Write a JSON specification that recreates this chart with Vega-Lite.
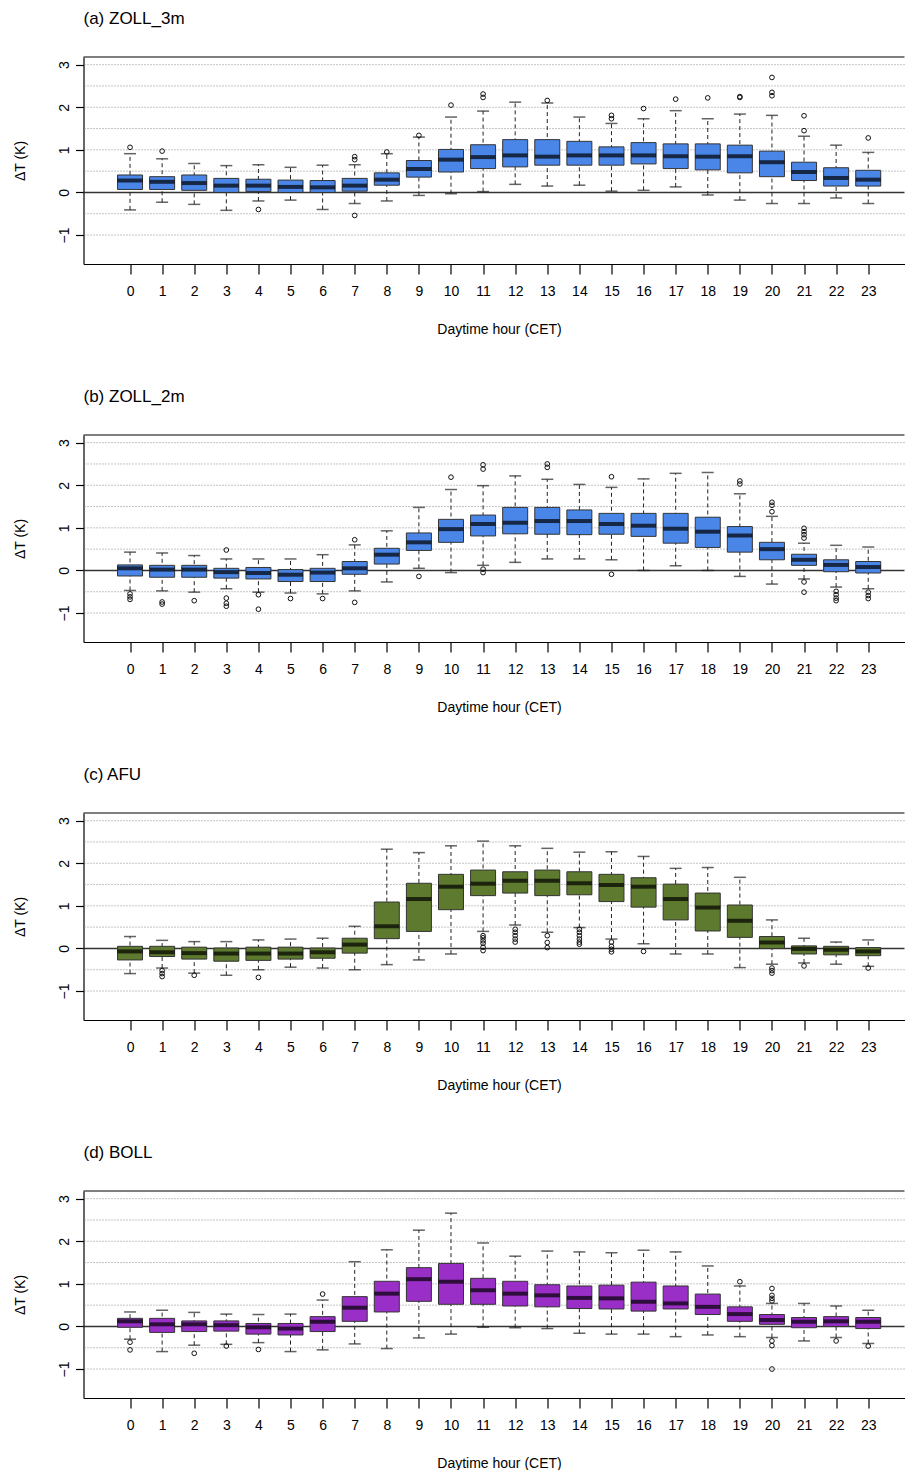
{
"$schema": "https://vega.github.io/schema/vega-lite/v6.json",
"padding": {"left": 13.5, "top": 10, "right": 0, "bottom": 0},
"background": "white",
"spacing": 52,
"config": {
  "view": {"stroke": null},
  "font": "Liberation Sans",
  "scale": {"continuousPadding": 0},
  "axis": {"domainColor": "#000000", "domainWidth": 1.2, "tickColor": "#000000", "tickWidth": 1.2, "labelColor": "#000000", "titleColor": "#000000", "labelFont": "Liberation Sans", "titleFont": "Liberation Sans", "labelFontSize": 14, "titleFontSize": 14, "titleFontWeight": "normal", "grid": false},
  "axisX": {"tickSize": 10, "labelPadding": 10, "titlePadding": 24, "labelAngle": 0, "titleX": 415.5},
  "axisY": {"tickSize": 8, "labelAngle": -90, "labelPadding": 4, "titlePadding": 30, "labelAlign": "center", "labelBaseline": "bottom"},
  "title": {"anchor": "start", "frame": "group", "fontSize": 17, "fontWeight": "normal", "font": "Liberation Sans", "offset": 28, "color": "#000000"}
},
"datasets": {
  "grid": [{"g": -1}, {"g": -0.5}, {"g": 0.5}, {"g": 1}, {"g": 1.5}, {"g": 2}, {"g": 2.5}, {"g": 3}],
  "boxes": [
    {"panel":"a","hour":0,"lo":-0.41,"q1":0.07,"median":0.28,"q3":0.41,"hi":0.91},
    {"panel":"a","hour":1,"lo":-0.23,"q1":0.07,"median":0.25,"q3":0.37,"hi":0.79},
    {"panel":"a","hour":2,"lo":-0.28,"q1":0.05,"median":0.22,"q3":0.41,"hi":0.68},
    {"panel":"a","hour":3,"lo":-0.42,"q1":0.0,"median":0.16,"q3":0.33,"hi":0.63},
    {"panel":"a","hour":4,"lo":-0.2,"q1":0.02,"median":0.16,"q3":0.31,"hi":0.65},
    {"panel":"a","hour":5,"lo":-0.18,"q1":0.0,"median":0.13,"q3":0.29,"hi":0.59},
    {"panel":"a","hour":6,"lo":-0.4,"q1":0.0,"median":0.12,"q3":0.28,"hi":0.64},
    {"panel":"a","hour":7,"lo":-0.26,"q1":0.03,"median":0.16,"q3":0.33,"hi":0.65},
    {"panel":"a","hour":8,"lo":-0.2,"q1":0.17,"median":0.3,"q3":0.46,"hi":0.91},
    {"panel":"a","hour":9,"lo":-0.07,"q1":0.36,"median":0.55,"q3":0.75,"hi":1.3},
    {"panel":"a","hour":10,"lo":-0.03,"q1":0.48,"median":0.77,"q3":1.01,"hi":1.77},
    {"panel":"a","hour":11,"lo":0.02,"q1":0.56,"median":0.83,"q3":1.12,"hi":1.91},
    {"panel":"a","hour":12,"lo":0.19,"q1":0.6,"median":0.87,"q3":1.24,"hi":2.12},
    {"panel":"a","hour":13,"lo":0.15,"q1":0.64,"median":0.84,"q3":1.24,"hi":2.1},
    {"panel":"a","hour":14,"lo":0.17,"q1":0.64,"median":0.87,"q3":1.2,"hi":1.77},
    {"panel":"a","hour":15,"lo":0.03,"q1":0.64,"median":0.87,"q3":1.07,"hi":1.62},
    {"panel":"a","hour":16,"lo":0.05,"q1":0.67,"median":0.87,"q3":1.17,"hi":1.73},
    {"panel":"a","hour":17,"lo":0.13,"q1":0.56,"median":0.85,"q3":1.14,"hi":1.92},
    {"panel":"a","hour":18,"lo":-0.06,"q1":0.53,"median":0.84,"q3":1.14,"hi":1.73},
    {"panel":"a","hour":19,"lo":-0.18,"q1":0.46,"median":0.85,"q3":1.11,"hi":1.84},
    {"panel":"a","hour":20,"lo":-0.26,"q1":0.37,"median":0.71,"q3":0.97,"hi":1.81},
    {"panel":"a","hour":21,"lo":-0.26,"q1":0.28,"median":0.48,"q3":0.71,"hi":1.32},
    {"panel":"a","hour":22,"lo":-0.13,"q1":0.15,"median":0.34,"q3":0.58,"hi":1.11},
    {"panel":"a","hour":23,"lo":-0.26,"q1":0.15,"median":0.3,"q3":0.52,"hi":0.94},
    {"panel":"b","hour":0,"lo":-0.47,"q1":-0.13,"median":0.05,"q3":0.13,"hi":0.43},
    {"panel":"b","hour":1,"lo":-0.48,"q1":-0.16,"median":0.02,"q3":0.12,"hi":0.41},
    {"panel":"b","hour":2,"lo":-0.51,"q1":-0.16,"median":0.02,"q3":0.12,"hi":0.35},
    {"panel":"b","hour":3,"lo":-0.43,"q1":-0.18,"median":-0.04,"q3":0.05,"hi":0.27},
    {"panel":"b","hour":4,"lo":-0.51,"q1":-0.2,"median":-0.06,"q3":0.07,"hi":0.27},
    {"panel":"b","hour":5,"lo":-0.53,"q1":-0.26,"median":-0.1,"q3":0.02,"hi":0.27},
    {"panel":"b","hour":6,"lo":-0.55,"q1":-0.26,"median":-0.05,"q3":0.05,"hi":0.37},
    {"panel":"b","hour":7,"lo":-0.48,"q1":-0.09,"median":0.05,"q3":0.21,"hi":0.6},
    {"panel":"b","hour":8,"lo":-0.27,"q1":0.15,"median":0.37,"q3":0.52,"hi":0.93},
    {"panel":"b","hour":9,"lo":0.05,"q1":0.47,"median":0.66,"q3":0.88,"hi":1.48},
    {"panel":"b","hour":10,"lo":-0.05,"q1":0.66,"median":0.97,"q3":1.2,"hi":1.9},
    {"panel":"b","hour":11,"lo":0.12,"q1":0.81,"median":1.09,"q3":1.3,"hi":1.99},
    {"panel":"b","hour":12,"lo":0.19,"q1":0.86,"median":1.12,"q3":1.48,"hi":2.22},
    {"panel":"b","hour":13,"lo":0.27,"q1":0.85,"median":1.16,"q3":1.48,"hi":2.14},
    {"panel":"b","hour":14,"lo":0.27,"q1":0.84,"median":1.16,"q3":1.42,"hi":2.02},
    {"panel":"b","hour":15,"lo":0.25,"q1":0.85,"median":1.09,"q3":1.34,"hi":1.95},
    {"panel":"b","hour":16,"lo":0.0,"q1":0.8,"median":1.05,"q3":1.34,"hi":2.15},
    {"panel":"b","hour":17,"lo":0.11,"q1":0.64,"median":0.98,"q3":1.34,"hi":2.28},
    {"panel":"b","hour":18,"lo":0.0,"q1":0.54,"median":0.91,"q3":1.25,"hi":2.3},
    {"panel":"b","hour":19,"lo":-0.14,"q1":0.43,"median":0.82,"q3":1.03,"hi":1.8},
    {"panel":"b","hour":20,"lo":-0.32,"q1":0.25,"median":0.5,"q3":0.66,"hi":1.27},
    {"panel":"b","hour":21,"lo":-0.2,"q1":0.12,"median":0.25,"q3":0.38,"hi":0.64},
    {"panel":"b","hour":22,"lo":-0.39,"q1":-0.03,"median":0.13,"q3":0.25,"hi":0.59},
    {"panel":"b","hour":23,"lo":-0.43,"q1":-0.06,"median":0.08,"q3":0.21,"hi":0.55},
    {"panel":"c","hour":0,"lo":-0.59,"q1":-0.27,"median":-0.07,"q3":0.05,"hi":0.28},
    {"panel":"c","hour":1,"lo":-0.46,"q1":-0.19,"median":-0.09,"q3":0.05,"hi":0.19},
    {"panel":"c","hour":2,"lo":-0.58,"q1":-0.25,"median":-0.11,"q3":0.03,"hi":0.16},
    {"panel":"c","hour":3,"lo":-0.63,"q1":-0.3,"median":-0.12,"q3":0.01,"hi":0.16},
    {"panel":"c","hour":4,"lo":-0.5,"q1":-0.28,"median":-0.12,"q3":0.03,"hi":0.2},
    {"panel":"c","hour":5,"lo":-0.44,"q1":-0.25,"median":-0.12,"q3":0.03,"hi":0.22},
    {"panel":"c","hour":6,"lo":-0.46,"q1":-0.23,"median":-0.09,"q3":0.01,"hi":0.24},
    {"panel":"c","hour":7,"lo":-0.5,"q1":-0.11,"median":0.09,"q3":0.24,"hi":0.52},
    {"panel":"c","hour":8,"lo":-0.38,"q1":0.23,"median":0.52,"q3":1.09,"hi":2.33},
    {"panel":"c","hour":9,"lo":-0.27,"q1":0.4,"median":1.16,"q3":1.53,"hi":2.25},
    {"panel":"c","hour":10,"lo":-0.13,"q1":0.91,"median":1.45,"q3":1.74,"hi":2.41},
    {"panel":"c","hour":11,"lo":0.4,"q1":1.24,"median":1.52,"q3":1.84,"hi":2.52},
    {"panel":"c","hour":12,"lo":0.55,"q1":1.3,"median":1.59,"q3":1.8,"hi":2.41},
    {"panel":"c","hour":13,"lo":0.38,"q1":1.24,"median":1.59,"q3":1.84,"hi":2.35},
    {"panel":"c","hour":14,"lo":0.49,"q1":1.26,"median":1.53,"q3":1.8,"hi":2.26},
    {"panel":"c","hour":15,"lo":0.22,"q1":1.1,"median":1.49,"q3":1.74,"hi":2.27},
    {"panel":"c","hour":16,"lo":0.11,"q1":0.97,"median":1.45,"q3":1.66,"hi":2.16},
    {"panel":"c","hour":17,"lo":-0.13,"q1":0.67,"median":1.16,"q3":1.51,"hi":1.88},
    {"panel":"c","hour":18,"lo":-0.13,"q1":0.41,"median":0.96,"q3":1.3,"hi":1.9},
    {"panel":"c","hour":19,"lo":-0.45,"q1":0.26,"median":0.65,"q3":1.02,"hi":1.67},
    {"panel":"c","hour":20,"lo":-0.37,"q1":0.0,"median":0.14,"q3":0.28,"hi":0.67},
    {"panel":"c","hour":21,"lo":-0.34,"q1":-0.13,"median":-0.01,"q3":0.06,"hi":0.24},
    {"panel":"c","hour":22,"lo":-0.37,"q1":-0.15,"median":-0.03,"q3":0.05,"hi":0.15},
    {"panel":"c","hour":23,"lo":-0.42,"q1":-0.17,"median":-0.07,"q3":0.02,"hi":0.2},
    {"panel":"d","hour":0,"lo":-0.3,"q1":-0.02,"median":0.12,"q3":0.19,"hi":0.34},
    {"panel":"d","hour":1,"lo":-0.59,"q1":-0.14,"median":0.05,"q3":0.19,"hi":0.38},
    {"panel":"d","hour":2,"lo":-0.44,"q1":-0.12,"median":0.05,"q3":0.13,"hi":0.33},
    {"panel":"d","hour":3,"lo":-0.42,"q1":-0.11,"median":0.03,"q3":0.13,"hi":0.29},
    {"panel":"d","hour":4,"lo":-0.38,"q1":-0.18,"median":-0.02,"q3":0.07,"hi":0.28},
    {"panel":"d","hour":5,"lo":-0.59,"q1":-0.2,"median":-0.05,"q3":0.07,"hi":0.29},
    {"panel":"d","hour":6,"lo":-0.55,"q1":-0.12,"median":0.11,"q3":0.23,"hi":0.62},
    {"panel":"d","hour":7,"lo":-0.41,"q1":0.12,"median":0.44,"q3":0.7,"hi":1.52},
    {"panel":"d","hour":8,"lo":-0.52,"q1":0.34,"median":0.77,"q3":1.06,"hi":1.8},
    {"panel":"d","hour":9,"lo":-0.27,"q1":0.59,"median":1.11,"q3":1.38,"hi":2.26},
    {"panel":"d","hour":10,"lo":-0.18,"q1":0.52,"median":1.05,"q3":1.48,"hi":2.66},
    {"panel":"d","hour":11,"lo":-0.02,"q1":0.52,"median":0.85,"q3":1.13,"hi":1.96},
    {"panel":"d","hour":12,"lo":-0.03,"q1":0.48,"median":0.77,"q3":1.06,"hi":1.65},
    {"panel":"d","hour":13,"lo":-0.05,"q1":0.46,"median":0.73,"q3":0.98,"hi":1.77},
    {"panel":"d","hour":14,"lo":-0.16,"q1":0.42,"median":0.67,"q3":0.95,"hi":1.75},
    {"panel":"d","hour":15,"lo":-0.18,"q1":0.41,"median":0.66,"q3":0.97,"hi":1.73},
    {"panel":"d","hour":16,"lo":-0.18,"q1":0.36,"median":0.58,"q3":1.04,"hi":1.79},
    {"panel":"d","hour":17,"lo":-0.24,"q1":0.41,"median":0.54,"q3":0.95,"hi":1.75},
    {"panel":"d","hour":18,"lo":-0.2,"q1":0.28,"median":0.46,"q3":0.76,"hi":1.42},
    {"panel":"d","hour":19,"lo":-0.24,"q1":0.12,"median":0.29,"q3":0.46,"hi":0.95},
    {"panel":"d","hour":20,"lo":-0.26,"q1":0.05,"median":0.15,"q3":0.28,"hi":0.54},
    {"panel":"d","hour":21,"lo":-0.34,"q1":-0.03,"median":0.11,"q3":0.21,"hi":0.54},
    {"panel":"d","hour":22,"lo":-0.26,"q1":0.0,"median":0.12,"q3":0.23,"hi":0.48},
    {"panel":"d","hour":23,"lo":-0.4,"q1":-0.05,"median":0.11,"q3":0.21,"hi":0.38}
  ],
  "outliers": [
    {"panel":"a","hour":0,"value":1.06},{"panel":"a","hour":1,"value":0.97},{"panel":"a","hour":4,"value":-0.4},
    {"panel":"a","hour":7,"value":0.84},{"panel":"a","hour":7,"value":0.77},{"panel":"a","hour":7,"value":-0.54},
    {"panel":"a","hour":8,"value":0.95},{"panel":"a","hour":9,"value":1.34},{"panel":"a","hour":10,"value":2.05},
    {"panel":"a","hour":11,"value":2.31},{"panel":"a","hour":11,"value":2.23},{"panel":"a","hour":13,"value":2.16},
    {"panel":"a","hour":15,"value":1.81},{"panel":"a","hour":15,"value":1.73},{"panel":"a","hour":16,"value":1.97},
    {"panel":"a","hour":17,"value":2.19},{"panel":"a","hour":18,"value":2.22},{"panel":"a","hour":19,"value":2.25},
    {"panel":"a","hour":19,"value":2.23},{"panel":"a","hour":20,"value":2.7},{"panel":"a","hour":20,"value":2.35},
    {"panel":"a","hour":20,"value":2.27},{"panel":"a","hour":21,"value":1.8},{"panel":"a","hour":21,"value":1.45},
    {"panel":"a","hour":23,"value":1.28},
    {"panel":"b","hour":0,"value":-0.55},{"panel":"b","hour":0,"value":-0.62},{"panel":"b","hour":0,"value":-0.68},
    {"panel":"b","hour":1,"value":-0.74},{"panel":"b","hour":1,"value":-0.79},{"panel":"b","hour":2,"value":-0.71},
    {"panel":"b","hour":3,"value":0.48},{"panel":"b","hour":3,"value":-0.65},{"panel":"b","hour":3,"value":-0.77},
    {"panel":"b","hour":3,"value":-0.84},{"panel":"b","hour":4,"value":-0.57},{"panel":"b","hour":4,"value":-0.91},
    {"panel":"b","hour":5,"value":-0.66},{"panel":"b","hour":6,"value":-0.66},{"panel":"b","hour":7,"value":0.72},
    {"panel":"b","hour":7,"value":-0.75},{"panel":"b","hour":9,"value":-0.14},{"panel":"b","hour":10,"value":2.19},
    {"panel":"b","hour":11,"value":2.48},{"panel":"b","hour":11,"value":2.38},{"panel":"b","hour":11,"value":0.03},
    {"panel":"b","hour":11,"value":-0.05},{"panel":"b","hour":13,"value":2.5},{"panel":"b","hour":13,"value":2.42},
    {"panel":"b","hour":15,"value":2.2},{"panel":"b","hour":15,"value":-0.09},{"panel":"b","hour":19,"value":2.1},
    {"panel":"b","hour":19,"value":2.03},{"panel":"b","hour":20,"value":1.6},{"panel":"b","hour":20,"value":1.53},
    {"panel":"b","hour":20,"value":1.38},{"panel":"b","hour":21,"value":0.99},{"panel":"b","hour":21,"value":0.91},
    {"panel":"b","hour":21,"value":0.84},{"panel":"b","hour":21,"value":0.76},{"panel":"b","hour":21,"value":-0.27},
    {"panel":"b","hour":21,"value":-0.51},{"panel":"b","hour":22,"value":-0.49},{"panel":"b","hour":22,"value":-0.57},
    {"panel":"b","hour":22,"value":-0.65},{"panel":"b","hour":22,"value":-0.71},{"panel":"b","hour":23,"value":-0.51},
    {"panel":"b","hour":23,"value":-0.59},{"panel":"b","hour":23,"value":-0.66},
    {"panel":"c","hour":1,"value":-0.52},{"panel":"c","hour":1,"value":-0.59},{"panel":"c","hour":1,"value":-0.66},
    {"panel":"c","hour":2,"value":-0.63},{"panel":"c","hour":4,"value":-0.68},
    {"panel":"c","hour":11,"value":0.3},{"panel":"c","hour":11,"value":0.25},{"panel":"c","hour":11,"value":0.18},
    {"panel":"c","hour":11,"value":0.12},{"panel":"c","hour":11,"value":0.03},{"panel":"c","hour":11,"value":-0.05},
    {"panel":"c","hour":12,"value":0.45},{"panel":"c","hour":12,"value":0.38},{"panel":"c","hour":12,"value":0.3},
    {"panel":"c","hour":12,"value":0.22},{"panel":"c","hour":12,"value":0.15},
    {"panel":"c","hour":13,"value":0.3},{"panel":"c","hour":13,"value":0.14},{"panel":"c","hour":13,"value":0.02},
    {"panel":"c","hour":14,"value":0.45},{"panel":"c","hour":14,"value":0.38},{"panel":"c","hour":14,"value":0.3},
    {"panel":"c","hour":14,"value":0.22},{"panel":"c","hour":14,"value":0.15},{"panel":"c","hour":14,"value":0.1},
    {"panel":"c","hour":15,"value":0.15},{"panel":"c","hour":15,"value":0.05},{"panel":"c","hour":15,"value":-0.02},
    {"panel":"c","hour":15,"value":-0.08},{"panel":"c","hour":16,"value":-0.07},
    {"panel":"c","hour":20,"value":-0.46},{"panel":"c","hour":20,"value":-0.52},{"panel":"c","hour":20,"value":-0.58},
    {"panel":"c","hour":21,"value":-0.41},{"panel":"c","hour":23,"value":-0.46},
    {"panel":"d","hour":0,"value":-0.37},{"panel":"d","hour":0,"value":-0.55},{"panel":"d","hour":2,"value":-0.63},
    {"panel":"d","hour":3,"value":-0.46},{"panel":"d","hour":4,"value":-0.54},{"panel":"d","hour":6,"value":0.76},
    {"panel":"d","hour":19,"value":1.05},{"panel":"d","hour":20,"value":0.89},{"panel":"d","hour":20,"value":0.73},
    {"panel":"d","hour":20,"value":0.66},{"panel":"d","hour":20,"value":0.6},{"panel":"d","hour":20,"value":-0.34},
    {"panel":"d","hour":20,"value":-0.45},{"panel":"d","hour":20,"value":-1.0},{"panel":"d","hour":22,"value":-0.34},
    {"panel":"d","hour":23,"value":-0.46}
  ]
},
"vconcat": [
 {
  "title": {"text": "(a) ZOLL_3m"},
  "width": 821, "height": 207,
  "layer": [
   {"data": {"name": "grid"}, "mark": {"type": "rule", "color": "#8a8a8a", "strokeWidth": 1, "strokeDash": [1, 2]}, "encoding": {"y": {"field": "g", "type": "quantitative", "scale": {"domain": [-1.68, 3.18], "nice": false, "zero": false}, "axis": {"values": [-1, 0, 1, 2, 3], "title": "ΔT (K)"}}}},
   {"data": {"values": [{"z": 0}]}, "mark": {"type": "rule", "color": "#333333", "strokeWidth": 1.5}, "encoding": {"y": {"field": "z", "type": "quantitative", "scale": {"domain": [-1.68, 3.18], "nice": false, "zero": false}, "axis": {"values": [-1, 0, 1, 2, 3], "title": "ΔT (K)"}}}},
   {"data": {"values": [{}]}, "mark": {"type": "rule", "color": "#000000", "strokeWidth": 1.2}, "encoding": {"y": {"datum": 3.18, "type": "quantitative", "scale": {"domain": [-1.68, 3.18], "nice": false, "zero": false}, "axis": {"values": [-1, 0, 1, 2, 3], "title": "ΔT (K)"}}}},
   {"data": {"name": "boxes"}, "transform": [{"filter": "datum.panel === 'a'"}], "mark": {"type": "rule", "color": "#222222", "strokeWidth": 1, "strokeDash": [4, 3]}, "encoding": {"x": {"field": "hour", "type": "quantitative", "scale": {"domain": [-1.45, 24.13], "nice": false, "zero": false, "padding": 0}, "axis": {"values": [0,1,2,3,4,5,6,7,8,9,10,11,12,13,14,15,16,17,18,19,20,21,22,23], "title": "Daytime hour (CET)"}}, "y": {"field": "lo", "type": "quantitative", "scale": {"domain": [-1.68, 3.18], "nice": false, "zero": false}, "axis": {"values": [-1, 0, 1, 2, 3], "title": "ΔT (K)"}}, "y2": {"field": "hi"}}},
   {"data": {"name": "boxes"}, "transform": [{"filter": "datum.panel === 'a'"}], "mark": {"type": "tick", "orient": "horizontal", "size": 12, "thickness": 1.5, "color": "#222222"}, "encoding": {"x": {"field": "hour", "type": "quantitative", "scale": {"domain": [-1.45, 24.13], "nice": false, "zero": false, "padding": 0}, "axis": {"values": [0,1,2,3,4,5,6,7,8,9,10,11,12,13,14,15,16,17,18,19,20,21,22,23], "title": "Daytime hour (CET)"}}, "y": {"field": "lo", "type": "quantitative", "scale": {"domain": [-1.68, 3.18], "nice": false, "zero": false}, "axis": {"values": [-1, 0, 1, 2, 3], "title": "ΔT (K)"}}}},
   {"data": {"name": "boxes"}, "transform": [{"filter": "datum.panel === 'a'"}], "mark": {"type": "tick", "orient": "horizontal", "size": 12, "thickness": 1.5, "color": "#222222"}, "encoding": {"x": {"field": "hour", "type": "quantitative", "scale": {"domain": [-1.45, 24.13], "nice": false, "zero": false, "padding": 0}, "axis": {"values": [0,1,2,3,4,5,6,7,8,9,10,11,12,13,14,15,16,17,18,19,20,21,22,23], "title": "Daytime hour (CET)"}}, "y": {"field": "hi", "type": "quantitative", "scale": {"domain": [-1.68, 3.18], "nice": false, "zero": false}, "axis": {"values": [-1, 0, 1, 2, 3], "title": "ΔT (K)"}}}},
   {"data": {"name": "boxes"}, "transform": [{"filter": "datum.panel === 'a'"}], "mark": {"type": "bar", "orient": "vertical", "size": 25, "color": "#4a86e8", "stroke": "#333333", "strokeWidth": 1}, "encoding": {"x": {"field": "hour", "type": "quantitative", "scale": {"domain": [-1.45, 24.13], "nice": false, "zero": false, "padding": 0}, "axis": {"values": [0,1,2,3,4,5,6,7,8,9,10,11,12,13,14,15,16,17,18,19,20,21,22,23], "title": "Daytime hour (CET)"}}, "y": {"field": "q1", "type": "quantitative", "scale": {"domain": [-1.68, 3.18], "nice": false, "zero": false}, "axis": {"values": [-1, 0, 1, 2, 3], "title": "ΔT (K)"}}, "y2": {"field": "q3"}}},
   {"data": {"name": "boxes"}, "transform": [{"filter": "datum.panel === 'a'"}], "mark": {"type": "tick", "orient": "horizontal", "size": 25, "thickness": 4, "color": "#000000"}, "encoding": {"x": {"field": "hour", "type": "quantitative", "scale": {"domain": [-1.45, 24.13], "nice": false, "zero": false, "padding": 0}, "axis": {"values": [0,1,2,3,4,5,6,7,8,9,10,11,12,13,14,15,16,17,18,19,20,21,22,23], "title": "Daytime hour (CET)"}}, "y": {"field": "median", "type": "quantitative", "scale": {"domain": [-1.68, 3.18], "nice": false, "zero": false}, "axis": {"values": [-1, 0, 1, 2, 3], "title": "ΔT (K)"}}}},
   {"data": {"name": "outliers"}, "transform": [{"filter": "datum.panel === 'a'"}], "mark": {"type": "point", "shape": "circle", "filled": false, "size": 22, "color": "#111111", "strokeWidth": 1, "opacity": 1}, "encoding": {"x": {"field": "hour", "type": "quantitative", "scale": {"domain": [-1.45, 24.13], "nice": false, "zero": false, "padding": 0}, "axis": {"values": [0,1,2,3,4,5,6,7,8,9,10,11,12,13,14,15,16,17,18,19,20,21,22,23], "title": "Daytime hour (CET)"}}, "y": {"field": "value", "type": "quantitative", "scale": {"domain": [-1.68, 3.18], "nice": false, "zero": false}, "axis": {"values": [-1, 0, 1, 2, 3], "title": "ΔT (K)"}}}}
  ]
 },
 {
  "title": {"text": "(b) ZOLL_2m"},
  "width": 821, "height": 207,
  "layer": [
   {"data": {"name": "grid"}, "mark": {"type": "rule", "color": "#8a8a8a", "strokeWidth": 1, "strokeDash": [1, 2]}, "encoding": {"y": {"field": "g", "type": "quantitative", "scale": {"domain": [-1.68, 3.18], "nice": false, "zero": false}, "axis": {"values": [-1, 0, 1, 2, 3], "title": "ΔT (K)"}}}},
   {"data": {"values": [{"z": 0}]}, "mark": {"type": "rule", "color": "#333333", "strokeWidth": 1.5}, "encoding": {"y": {"field": "z", "type": "quantitative", "scale": {"domain": [-1.68, 3.18], "nice": false, "zero": false}, "axis": {"values": [-1, 0, 1, 2, 3], "title": "ΔT (K)"}}}},
   {"data": {"values": [{}]}, "mark": {"type": "rule", "color": "#000000", "strokeWidth": 1.2}, "encoding": {"y": {"datum": 3.18, "type": "quantitative", "scale": {"domain": [-1.68, 3.18], "nice": false, "zero": false}, "axis": {"values": [-1, 0, 1, 2, 3], "title": "ΔT (K)"}}}},
   {"data": {"name": "boxes"}, "transform": [{"filter": "datum.panel === 'b'"}], "mark": {"type": "rule", "color": "#222222", "strokeWidth": 1, "strokeDash": [4, 3]}, "encoding": {"x": {"field": "hour", "type": "quantitative", "scale": {"domain": [-1.45, 24.13], "nice": false, "zero": false, "padding": 0}, "axis": {"values": [0,1,2,3,4,5,6,7,8,9,10,11,12,13,14,15,16,17,18,19,20,21,22,23], "title": "Daytime hour (CET)"}}, "y": {"field": "lo", "type": "quantitative", "scale": {"domain": [-1.68, 3.18], "nice": false, "zero": false}, "axis": {"values": [-1, 0, 1, 2, 3], "title": "ΔT (K)"}}, "y2": {"field": "hi"}}},
   {"data": {"name": "boxes"}, "transform": [{"filter": "datum.panel === 'b'"}], "mark": {"type": "tick", "orient": "horizontal", "size": 12, "thickness": 1.5, "color": "#222222"}, "encoding": {"x": {"field": "hour", "type": "quantitative", "scale": {"domain": [-1.45, 24.13], "nice": false, "zero": false, "padding": 0}, "axis": {"values": [0,1,2,3,4,5,6,7,8,9,10,11,12,13,14,15,16,17,18,19,20,21,22,23], "title": "Daytime hour (CET)"}}, "y": {"field": "lo", "type": "quantitative", "scale": {"domain": [-1.68, 3.18], "nice": false, "zero": false}, "axis": {"values": [-1, 0, 1, 2, 3], "title": "ΔT (K)"}}}},
   {"data": {"name": "boxes"}, "transform": [{"filter": "datum.panel === 'b'"}], "mark": {"type": "tick", "orient": "horizontal", "size": 12, "thickness": 1.5, "color": "#222222"}, "encoding": {"x": {"field": "hour", "type": "quantitative", "scale": {"domain": [-1.45, 24.13], "nice": false, "zero": false, "padding": 0}, "axis": {"values": [0,1,2,3,4,5,6,7,8,9,10,11,12,13,14,15,16,17,18,19,20,21,22,23], "title": "Daytime hour (CET)"}}, "y": {"field": "hi", "type": "quantitative", "scale": {"domain": [-1.68, 3.18], "nice": false, "zero": false}, "axis": {"values": [-1, 0, 1, 2, 3], "title": "ΔT (K)"}}}},
   {"data": {"name": "boxes"}, "transform": [{"filter": "datum.panel === 'b'"}], "mark": {"type": "bar", "orient": "vertical", "size": 25, "color": "#4a86e8", "stroke": "#333333", "strokeWidth": 1}, "encoding": {"x": {"field": "hour", "type": "quantitative", "scale": {"domain": [-1.45, 24.13], "nice": false, "zero": false, "padding": 0}, "axis": {"values": [0,1,2,3,4,5,6,7,8,9,10,11,12,13,14,15,16,17,18,19,20,21,22,23], "title": "Daytime hour (CET)"}}, "y": {"field": "q1", "type": "quantitative", "scale": {"domain": [-1.68, 3.18], "nice": false, "zero": false}, "axis": {"values": [-1, 0, 1, 2, 3], "title": "ΔT (K)"}}, "y2": {"field": "q3"}}},
   {"data": {"name": "boxes"}, "transform": [{"filter": "datum.panel === 'b'"}], "mark": {"type": "tick", "orient": "horizontal", "size": 25, "thickness": 4, "color": "#000000"}, "encoding": {"x": {"field": "hour", "type": "quantitative", "scale": {"domain": [-1.45, 24.13], "nice": false, "zero": false, "padding": 0}, "axis": {"values": [0,1,2,3,4,5,6,7,8,9,10,11,12,13,14,15,16,17,18,19,20,21,22,23], "title": "Daytime hour (CET)"}}, "y": {"field": "median", "type": "quantitative", "scale": {"domain": [-1.68, 3.18], "nice": false, "zero": false}, "axis": {"values": [-1, 0, 1, 2, 3], "title": "ΔT (K)"}}}},
   {"data": {"name": "outliers"}, "transform": [{"filter": "datum.panel === 'b'"}], "mark": {"type": "point", "shape": "circle", "filled": false, "size": 22, "color": "#111111", "strokeWidth": 1, "opacity": 1}, "encoding": {"x": {"field": "hour", "type": "quantitative", "scale": {"domain": [-1.45, 24.13], "nice": false, "zero": false, "padding": 0}, "axis": {"values": [0,1,2,3,4,5,6,7,8,9,10,11,12,13,14,15,16,17,18,19,20,21,22,23], "title": "Daytime hour (CET)"}}, "y": {"field": "value", "type": "quantitative", "scale": {"domain": [-1.68, 3.18], "nice": false, "zero": false}, "axis": {"values": [-1, 0, 1, 2, 3], "title": "ΔT (K)"}}}}
  ]
 },
 {
  "title": {"text": "(c) AFU"},
  "width": 821, "height": 207,
  "layer": [
   {"data": {"name": "grid"}, "mark": {"type": "rule", "color": "#8a8a8a", "strokeWidth": 1, "strokeDash": [1, 2]}, "encoding": {"y": {"field": "g", "type": "quantitative", "scale": {"domain": [-1.68, 3.18], "nice": false, "zero": false}, "axis": {"values": [-1, 0, 1, 2, 3], "title": "ΔT (K)"}}}},
   {"data": {"values": [{"z": 0}]}, "mark": {"type": "rule", "color": "#333333", "strokeWidth": 1.5}, "encoding": {"y": {"field": "z", "type": "quantitative", "scale": {"domain": [-1.68, 3.18], "nice": false, "zero": false}, "axis": {"values": [-1, 0, 1, 2, 3], "title": "ΔT (K)"}}}},
   {"data": {"values": [{}]}, "mark": {"type": "rule", "color": "#000000", "strokeWidth": 1.2}, "encoding": {"y": {"datum": 3.18, "type": "quantitative", "scale": {"domain": [-1.68, 3.18], "nice": false, "zero": false}, "axis": {"values": [-1, 0, 1, 2, 3], "title": "ΔT (K)"}}}},
   {"data": {"name": "boxes"}, "transform": [{"filter": "datum.panel === 'c'"}], "mark": {"type": "rule", "color": "#222222", "strokeWidth": 1, "strokeDash": [4, 3]}, "encoding": {"x": {"field": "hour", "type": "quantitative", "scale": {"domain": [-1.45, 24.13], "nice": false, "zero": false, "padding": 0}, "axis": {"values": [0,1,2,3,4,5,6,7,8,9,10,11,12,13,14,15,16,17,18,19,20,21,22,23], "title": "Daytime hour (CET)"}}, "y": {"field": "lo", "type": "quantitative", "scale": {"domain": [-1.68, 3.18], "nice": false, "zero": false}, "axis": {"values": [-1, 0, 1, 2, 3], "title": "ΔT (K)"}}, "y2": {"field": "hi"}}},
   {"data": {"name": "boxes"}, "transform": [{"filter": "datum.panel === 'c'"}], "mark": {"type": "tick", "orient": "horizontal", "size": 12, "thickness": 1.5, "color": "#222222"}, "encoding": {"x": {"field": "hour", "type": "quantitative", "scale": {"domain": [-1.45, 24.13], "nice": false, "zero": false, "padding": 0}, "axis": {"values": [0,1,2,3,4,5,6,7,8,9,10,11,12,13,14,15,16,17,18,19,20,21,22,23], "title": "Daytime hour (CET)"}}, "y": {"field": "lo", "type": "quantitative", "scale": {"domain": [-1.68, 3.18], "nice": false, "zero": false}, "axis": {"values": [-1, 0, 1, 2, 3], "title": "ΔT (K)"}}}},
   {"data": {"name": "boxes"}, "transform": [{"filter": "datum.panel === 'c'"}], "mark": {"type": "tick", "orient": "horizontal", "size": 12, "thickness": 1.5, "color": "#222222"}, "encoding": {"x": {"field": "hour", "type": "quantitative", "scale": {"domain": [-1.45, 24.13], "nice": false, "zero": false, "padding": 0}, "axis": {"values": [0,1,2,3,4,5,6,7,8,9,10,11,12,13,14,15,16,17,18,19,20,21,22,23], "title": "Daytime hour (CET)"}}, "y": {"field": "hi", "type": "quantitative", "scale": {"domain": [-1.68, 3.18], "nice": false, "zero": false}, "axis": {"values": [-1, 0, 1, 2, 3], "title": "ΔT (K)"}}}},
   {"data": {"name": "boxes"}, "transform": [{"filter": "datum.panel === 'c'"}], "mark": {"type": "bar", "orient": "vertical", "size": 25, "color": "#5e7a2e", "stroke": "#333333", "strokeWidth": 1}, "encoding": {"x": {"field": "hour", "type": "quantitative", "scale": {"domain": [-1.45, 24.13], "nice": false, "zero": false, "padding": 0}, "axis": {"values": [0,1,2,3,4,5,6,7,8,9,10,11,12,13,14,15,16,17,18,19,20,21,22,23], "title": "Daytime hour (CET)"}}, "y": {"field": "q1", "type": "quantitative", "scale": {"domain": [-1.68, 3.18], "nice": false, "zero": false}, "axis": {"values": [-1, 0, 1, 2, 3], "title": "ΔT (K)"}}, "y2": {"field": "q3"}}},
   {"data": {"name": "boxes"}, "transform": [{"filter": "datum.panel === 'c'"}], "mark": {"type": "tick", "orient": "horizontal", "size": 25, "thickness": 4, "color": "#000000"}, "encoding": {"x": {"field": "hour", "type": "quantitative", "scale": {"domain": [-1.45, 24.13], "nice": false, "zero": false, "padding": 0}, "axis": {"values": [0,1,2,3,4,5,6,7,8,9,10,11,12,13,14,15,16,17,18,19,20,21,22,23], "title": "Daytime hour (CET)"}}, "y": {"field": "median", "type": "quantitative", "scale": {"domain": [-1.68, 3.18], "nice": false, "zero": false}, "axis": {"values": [-1, 0, 1, 2, 3], "title": "ΔT (K)"}}}},
   {"data": {"name": "outliers"}, "transform": [{"filter": "datum.panel === 'c'"}], "mark": {"type": "point", "shape": "circle", "filled": false, "size": 22, "color": "#111111", "strokeWidth": 1, "opacity": 1}, "encoding": {"x": {"field": "hour", "type": "quantitative", "scale": {"domain": [-1.45, 24.13], "nice": false, "zero": false, "padding": 0}, "axis": {"values": [0,1,2,3,4,5,6,7,8,9,10,11,12,13,14,15,16,17,18,19,20,21,22,23], "title": "Daytime hour (CET)"}}, "y": {"field": "value", "type": "quantitative", "scale": {"domain": [-1.68, 3.18], "nice": false, "zero": false}, "axis": {"values": [-1, 0, 1, 2, 3], "title": "ΔT (K)"}}}}
  ]
 },
 {
  "title": {"text": "(d) BOLL"},
  "width": 821, "height": 207,
  "layer": [
   {"data": {"name": "grid"}, "mark": {"type": "rule", "color": "#8a8a8a", "strokeWidth": 1, "strokeDash": [1, 2]}, "encoding": {"y": {"field": "g", "type": "quantitative", "scale": {"domain": [-1.68, 3.18], "nice": false, "zero": false}, "axis": {"values": [-1, 0, 1, 2, 3], "title": "ΔT (K)"}}}},
   {"data": {"values": [{"z": 0}]}, "mark": {"type": "rule", "color": "#333333", "strokeWidth": 1.5}, "encoding": {"y": {"field": "z", "type": "quantitative", "scale": {"domain": [-1.68, 3.18], "nice": false, "zero": false}, "axis": {"values": [-1, 0, 1, 2, 3], "title": "ΔT (K)"}}}},
   {"data": {"values": [{}]}, "mark": {"type": "rule", "color": "#000000", "strokeWidth": 1.2}, "encoding": {"y": {"datum": 3.18, "type": "quantitative", "scale": {"domain": [-1.68, 3.18], "nice": false, "zero": false}, "axis": {"values": [-1, 0, 1, 2, 3], "title": "ΔT (K)"}}}},
   {"data": {"name": "boxes"}, "transform": [{"filter": "datum.panel === 'd'"}], "mark": {"type": "rule", "color": "#222222", "strokeWidth": 1, "strokeDash": [4, 3]}, "encoding": {"x": {"field": "hour", "type": "quantitative", "scale": {"domain": [-1.45, 24.13], "nice": false, "zero": false, "padding": 0}, "axis": {"values": [0,1,2,3,4,5,6,7,8,9,10,11,12,13,14,15,16,17,18,19,20,21,22,23], "title": "Daytime hour (CET)"}}, "y": {"field": "lo", "type": "quantitative", "scale": {"domain": [-1.68, 3.18], "nice": false, "zero": false}, "axis": {"values": [-1, 0, 1, 2, 3], "title": "ΔT (K)"}}, "y2": {"field": "hi"}}},
   {"data": {"name": "boxes"}, "transform": [{"filter": "datum.panel === 'd'"}], "mark": {"type": "tick", "orient": "horizontal", "size": 12, "thickness": 1.5, "color": "#222222"}, "encoding": {"x": {"field": "hour", "type": "quantitative", "scale": {"domain": [-1.45, 24.13], "nice": false, "zero": false, "padding": 0}, "axis": {"values": [0,1,2,3,4,5,6,7,8,9,10,11,12,13,14,15,16,17,18,19,20,21,22,23], "title": "Daytime hour (CET)"}}, "y": {"field": "lo", "type": "quantitative", "scale": {"domain": [-1.68, 3.18], "nice": false, "zero": false}, "axis": {"values": [-1, 0, 1, 2, 3], "title": "ΔT (K)"}}}},
   {"data": {"name": "boxes"}, "transform": [{"filter": "datum.panel === 'd'"}], "mark": {"type": "tick", "orient": "horizontal", "size": 12, "thickness": 1.5, "color": "#222222"}, "encoding": {"x": {"field": "hour", "type": "quantitative", "scale": {"domain": [-1.45, 24.13], "nice": false, "zero": false, "padding": 0}, "axis": {"values": [0,1,2,3,4,5,6,7,8,9,10,11,12,13,14,15,16,17,18,19,20,21,22,23], "title": "Daytime hour (CET)"}}, "y": {"field": "hi", "type": "quantitative", "scale": {"domain": [-1.68, 3.18], "nice": false, "zero": false}, "axis": {"values": [-1, 0, 1, 2, 3], "title": "ΔT (K)"}}}},
   {"data": {"name": "boxes"}, "transform": [{"filter": "datum.panel === 'd'"}], "mark": {"type": "bar", "orient": "vertical", "size": 25, "color": "#9a2fc8", "stroke": "#333333", "strokeWidth": 1}, "encoding": {"x": {"field": "hour", "type": "quantitative", "scale": {"domain": [-1.45, 24.13], "nice": false, "zero": false, "padding": 0}, "axis": {"values": [0,1,2,3,4,5,6,7,8,9,10,11,12,13,14,15,16,17,18,19,20,21,22,23], "title": "Daytime hour (CET)"}}, "y": {"field": "q1", "type": "quantitative", "scale": {"domain": [-1.68, 3.18], "nice": false, "zero": false}, "axis": {"values": [-1, 0, 1, 2, 3], "title": "ΔT (K)"}}, "y2": {"field": "q3"}}},
   {"data": {"name": "boxes"}, "transform": [{"filter": "datum.panel === 'd'"}], "mark": {"type": "tick", "orient": "horizontal", "size": 25, "thickness": 4, "color": "#000000"}, "encoding": {"x": {"field": "hour", "type": "quantitative", "scale": {"domain": [-1.45, 24.13], "nice": false, "zero": false, "padding": 0}, "axis": {"values": [0,1,2,3,4,5,6,7,8,9,10,11,12,13,14,15,16,17,18,19,20,21,22,23], "title": "Daytime hour (CET)"}}, "y": {"field": "median", "type": "quantitative", "scale": {"domain": [-1.68, 3.18], "nice": false, "zero": false}, "axis": {"values": [-1, 0, 1, 2, 3], "title": "ΔT (K)"}}}},
   {"data": {"name": "outliers"}, "transform": [{"filter": "datum.panel === 'd'"}], "mark": {"type": "point", "shape": "circle", "filled": false, "size": 22, "color": "#111111", "strokeWidth": 1, "opacity": 1}, "encoding": {"x": {"field": "hour", "type": "quantitative", "scale": {"domain": [-1.45, 24.13], "nice": false, "zero": false, "padding": 0}, "axis": {"values": [0,1,2,3,4,5,6,7,8,9,10,11,12,13,14,15,16,17,18,19,20,21,22,23], "title": "Daytime hour (CET)"}}, "y": {"field": "value", "type": "quantitative", "scale": {"domain": [-1.68, 3.18], "nice": false, "zero": false}, "axis": {"values": [-1, 0, 1, 2, 3], "title": "ΔT (K)"}}}}
  ]
 }
]
}
